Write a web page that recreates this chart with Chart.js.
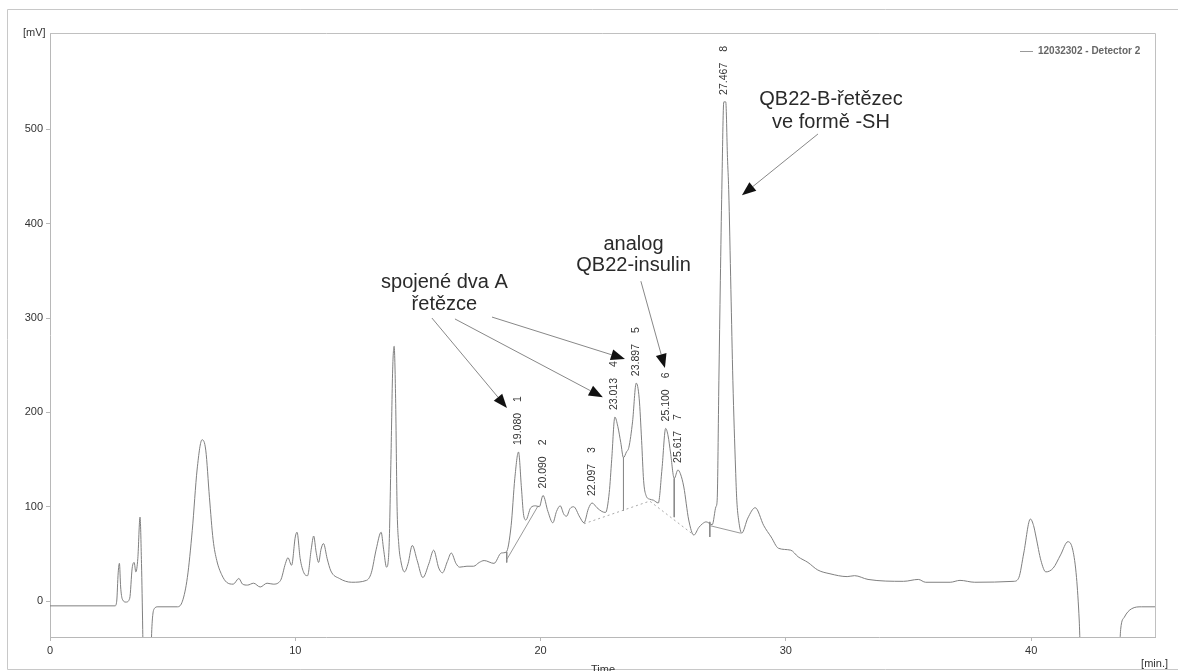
<!DOCTYPE html>
<html lang="cs">
<head>
<meta charset="UTF-8">
<title>12032302 - Detector 2</title>
<script src="https://cdn.jsdelivr.net/npm/chart.js"></script>
<style>
    body { margin: 0; background: #fff; }
    #wrap { width: 1178px; height: 671px; }
</style>
</head>
<body>
<div id="wrap"><canvas id="chart" width="1178" height="671"></canvas></div>
<script>
// chromatogram trace: time [min] and signal [mV]
const time = [
    0, 2.65, 2.72, 2.78, 2.83, 2.88, 2.95, 3.1, 3.25, 3.35, 3.43, 3.5, 3.58, 3.67, 3.73, 3.78, 3.83,
    4.05, 4.15, 4.25, 4.4, 5.2, 5.4, 5.6, 5.8, 6.0, 6.2, 6.35, 6.5, 6.65, 6.8, 7.0, 7.2, 7.47, 7.7,
    7.85, 8.05, 8.3, 8.57, 8.85, 9.1, 9.4, 9.6, 9.7, 9.85, 10.0, 10.07, 10.2, 10.35, 10.5, 10.65,
    10.75, 10.85, 10.95, 11.05, 11.15, 11.3, 11.45, 11.8, 12.3, 12.9, 13.1, 13.3, 13.5, 13.6, 13.72,
    13.82, 13.9, 13.97, 14.03, 14.09, 14.15, 14.22, 14.3, 14.45, 14.6, 14.77, 14.97, 15.2, 15.45, 15.64,
    15.85, 16.0, 16.2, 16.36, 16.55, 16.7, 17.0, 17.27, 17.5, 17.7, 18.1, 18.4, 18.6, 18.8, 18.95,
    19.1, 19.22, 19.3, 19.4, 19.6, 19.8, 19.95, 20.1, 20.3, 20.5, 20.65, 20.8, 20.95, 21.06, 21.2,
    21.35, 21.6, 21.77, 21.95, 22.1, 22.3, 22.5, 22.65, 22.8, 22.9, 23.03, 23.15, 23.27, 23.38, 23.5,
    23.6, 23.75, 23.9, 24.02, 24.12, 24.2, 24.3, 24.45, 24.6, 24.8, 24.95, 25.1, 25.2, 25.3, 25.45,
    25.6, 25.7, 25.84, 26.04, 26.25, 26.45, 26.6, 26.75, 27.0, 27.15, 27.2, 27.27, 27.33, 27.39,
    27.47, 27.55, 27.62, 27.67, 27.76, 27.84, 27.95, 28.0, 28.08, 28.2, 28.45, 28.75, 29.1, 29.4,
    29.7, 30.2, 30.5, 30.9, 31.3, 31.8, 32.5, 32.8, 33.35, 34.8, 35.4, 35.7, 36.7, 37.1, 37.7, 39.3,
    39.5, 39.7, 39.97, 40.1, 40.2, 40.4, 40.6, 40.9, 41.2, 41.5, 41.7, 41.85, 41.96, 42.05, 43.55,
    43.65, 43.8, 44.1, 44.5, 45.05
];
const signal = [
    -5, -5, 0, 30, 40, 15, 2, -1, 3, 35, 41, 31, 45, 89, 40, -30, -120,
    -120, -30, -8, -6, -6, 0, 25, 75, 140, 171, 160, 110, 65, 43, 28, 20, 18, 24,
    18, 17, 19, 15, 19, 18, 22, 40, 46, 38, 68, 73, 45, 30, 27, 55,
    69, 52, 41, 55, 61, 45, 32, 24, 20, 22, 30, 55, 73, 55, 36,
    55, 150, 245, 270, 215, 100, 60, 43, 31, 40, 59, 43, 25, 40, 54,
    35, 30, 42, 51, 40, 36, 37, 37, 41, 43, 40, 51, 52, 80, 130,
    158, 120, 93, 86, 99, 101, 100, 112, 95, 83, 95, 101, 92, 90, 98,
    100, 89, 83, 98, 104, 99, 95, 94, 115, 150, 195, 185, 168, 152, 158,
    163, 190, 231, 215, 170, 128, 112, 108, 107, 104, 140, 183, 175, 157, 130,
    139, 135, 121, 86, 70, 78, 82, 84, 81, 100, 107, 234, 340, 436,
    529, 529, 470, 436, 330, 234, 140, 107, 85, 72, 88, 99, 80, 68,
    56, 54, 47, 41, 33, 29, 26, 27, 23, 21, 23, 20, 20, 22, 20, 21,
    25, 51, 87, 80, 68, 43, 31, 35, 49, 63, 54, 25, -20, -80, -80,
    -30, -17, -8, -6, -6
];

// integration baselines and drop lines
const baseSolidT = [18.62, 19.9];
const baseSolidV = [44, 101];
const baseDotT = [21.77, 24.45, 26.25];
const baseDotV = [82, 106, 70];
const baseTailT = [26.9, 28.16];
const baseTailV = [80, 72];
const dropT = [18.62, 23.38, 25.45, 26.9];
const dropTop = [52, 152, 130, 84];
const dropBottom = [41, 96, 89, 68];

// integrated peaks
const peakTimes = [19.080, 20.090, 22.097, 23.013, 23.897, 25.100, 25.617, 27.467];
const peakTimeLabels = ['19.080', '20.090', '22.097', '23.013', '23.897', '25.100', '25.617', '27.467'];
const peakHeights = [158, 112, 104, 195, 231, 183, 139, 529];
const peakNumbers = ['1', '2', '3', '4', '5', '6', '7', '8'];

const xTicks = [0, 10, 20, 30, 40];
const yTicks = [0, 100, 200, 300, 400, 500];

// annotation texts [t, v] = centre / baseline in data units
const noteLines = ['spojené dva A', 'řetězce', 'analog', 'QB22-insulin', 'QB22-B-řetězec', 've formě -SH'];
const noteT = [16.08, 16.08, 23.79, 23.79, 31.84, 31.84];
const noteV = [331.7, 308.4, 372, 349.7, 525.6, 501];

// arrows: start and tip in data units
const arrowFromT = [15.57, 16.51, 18.02, 24.09, 31.31];
const arrowFromV = [300, 299, 301, 339, 495];
const arrowToT = [18.63, 22.54, 23.44, 25.07, 28.21];
const arrowToV = [204.7, 216, 256.6, 247, 430];

const pts = (ts, vs) => ts.map((t, i) => ({ x: t, y: vs[i] }));

const datasets = [{
    data: pts(time, signal),
    borderColor: '#808080',
    borderWidth: 1,
    pointRadius: 0,
    cubicInterpolationMode: 'monotone'
}, {
    data: pts(baseSolidT, baseSolidV),
    borderColor: '#9a9a9a', borderWidth: 1, pointRadius: 0
}, {
    data: pts(baseDotT, baseDotV),
    borderColor: '#aaaaaa', borderWidth: 1, pointRadius: 0, borderDash: [2, 3]
}, {
    data: pts(baseTailT, baseTailV),
    borderColor: '#9a9a9a', borderWidth: 1, pointRadius: 0
}];
dropT.forEach((t, i) => {
    datasets.push({
        data: [{ x: t, y: dropTop[i] }, { x: t, y: dropBottom[i] }],
        borderColor: '#8a8a8a', borderWidth: 1, pointRadius: 0
    });
});

const extras = {
    id: 'extras',
    beforeDraw(chart) {
        const c = chart.ctx;
        c.save();
        c.fillStyle = '#fff';
        c.fillRect(0, 0, chart.width, chart.height);
        // outer frame
        c.strokeStyle = '#c8c8c8';
        c.lineWidth = 1;
        c.beginPath();
        c.moveTo(chart.width, 9.5); c.lineTo(7.5, 9.5); c.lineTo(7.5, 669.5); c.lineTo(chart.width, 669.5);
        c.stroke();
        c.restore();
    },
    afterDraw(chart) {
        const c = chart.ctx;
        const xs = chart.scales.x, ys = chart.scales.y;
        const a = chart.chartArea;
        c.save();
        // top and right border of plot
        c.strokeStyle = '#c0c0c0';
        c.lineWidth = 1;
        c.beginPath();
        c.moveTo(a.left, a.top + 0.5); c.lineTo(a.right + 0.5, a.top + 0.5); c.lineTo(a.right + 0.5, a.bottom);
        c.stroke();

        // axis captions
        c.fillStyle = '#333';
        c.font = '11px "Liberation Sans", Arial, sans-serif';
        c.textBaseline = 'middle';
        c.textAlign = 'left';
        c.fillText('[mV]', 23, 33);
        c.textAlign = 'right';
        c.fillText('[min.]', 1168, 664);
        c.textAlign = 'center';
        c.fillText('Time', 603, 670);

        // legend
        c.strokeStyle = '#999';
        c.beginPath(); c.moveTo(1020, 51.5); c.lineTo(1033, 51.5); c.stroke();
        c.fillStyle = '#666';
        c.font = 'bold 10px "Liberation Sans", Arial, sans-serif';
        c.textAlign = 'left';
        c.fillText('12032302 - Detector 2', 1038, 51);

        // peak labels
        c.fillStyle = '#333';
        c.font = '10.5px "Liberation Sans", Arial, sans-serif';
        peakTimes.forEach((t, i) => {
            const px = xs.getPixelForValue(t);
            const py = ys.getPixelForValue(peakHeights[i]) - 7;
            c.save();
            c.translate(px, py);
            c.rotate(-Math.PI / 2);
            c.textAlign = 'left';
            c.textBaseline = 'middle';
            c.fillText(peakTimeLabels[i], 0, 0);
            c.textAlign = 'center';
            c.fillText(peakNumbers[i], 46, 0);
            c.restore();
        });

        // arrows
        arrowFromT.forEach((t, i) => {
            const x0 = xs.getPixelForValue(t), y0 = ys.getPixelForValue(arrowFromV[i]);
            const x1 = xs.getPixelForValue(arrowToT[i]), y1 = ys.getPixelForValue(arrowToV[i]);
            const ang = Math.atan2(y1 - y0, x1 - x0);
            const len = 14, half = 5.5;
            c.strokeStyle = '#888';
            c.lineWidth = 1;
            c.beginPath();
            c.moveTo(x0, y0);
            c.lineTo(x1 - Math.cos(ang) * len, y1 - Math.sin(ang) * len);
            c.stroke();
            c.fillStyle = '#111';
            c.beginPath();
            c.moveTo(x1, y1);
            const bx = x1 - Math.cos(ang) * len, by = y1 - Math.sin(ang) * len;
            c.lineTo(bx + Math.sin(ang) * half, by - Math.cos(ang) * half);
            c.lineTo(bx - Math.sin(ang) * half, by + Math.cos(ang) * half);
            c.closePath();
            c.fill();
        });

        // annotation texts
        c.fillStyle = '#2a2a2a';
        c.font = '20px "Liberation Sans", Arial, sans-serif';
        c.textAlign = 'center';
        c.textBaseline = 'alphabetic';
        noteLines.forEach((s, i) => {
            c.fillText(s, xs.getPixelForValue(noteT[i]), ys.getPixelForValue(noteV[i]));
        });
        c.restore();
    }
};

new Chart(document.getElementById('chart'), {
    type: 'line',
    data: { datasets },
    options: {
        responsive: false,
        animation: false,
        layout: { padding: { top: 33, right: 23, left: 0, bottom: 0 } },
        plugins: { legend: { display: false }, tooltip: { enabled: false } },
        scales: {
            x: {
                type: 'linear',
                min: 0,
                max: 45.05,
                afterFit: s => { s.height = 34; },
                afterBuildTicks: s => { s.ticks = xTicks.map(v => ({ value: v })); },
                grid: { drawOnChartArea: false, drawTicks: true, tickLength: 4, color: '#b8b8b8' },
                border: { color: '#b8b8b8' },
                ticks: {
                    padding: 3,
                    maxRotation: 0,
                    color: '#333',
                    font: { family: '"Liberation Sans", Arial, sans-serif', size: 11 }
                }
            },
            y: {
                min: -38,
                max: 602,
                afterFit: s => { s.width = 50; },
                afterBuildTicks: s => { s.ticks = yTicks.map(v => ({ value: v })); },
                grid: { drawOnChartArea: false, drawTicks: true, tickLength: 4, color: '#b8b8b8' },
                border: { color: '#b8b8b8' },
                ticks: {
                    padding: 3,
                    color: '#333',
                    font: { family: '"Liberation Sans", Arial, sans-serif', size: 11 }
                }
            }
        }
    },
    plugins: [extras]
});
</script>
</body>
</html>
